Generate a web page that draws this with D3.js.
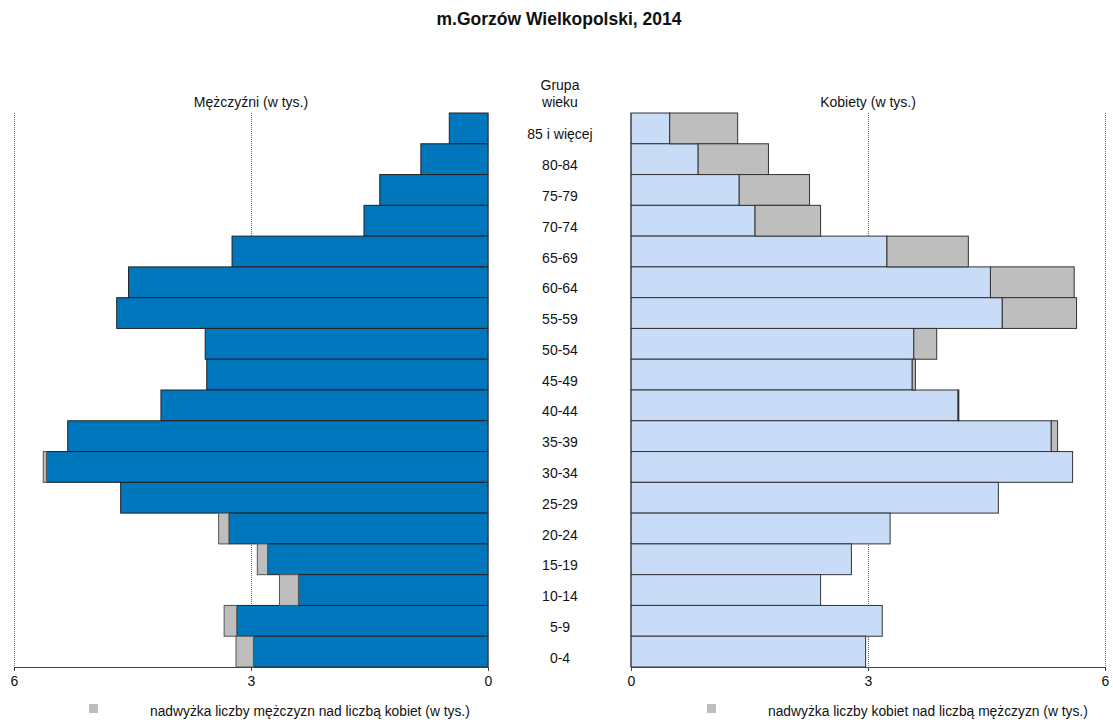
<!DOCTYPE html>
<html>
<head>
<meta charset="utf-8">
<script src="https://cdn.jsdelivr.net/npm/d3@7"></script>
<style>
  body { margin: 0; background: #fff; }
  text { font-family: "Liberation Sans", Arial, sans-serif; fill: #111; }
</style>
</head>
<body>
<div id="chart"></div>
<script>
// age groups, top to bottom
const ageGroups = ["85 i więcej", "80-84", "75-79", "70-74", "65-69", "60-64", "55-59", "50-54",
  "45-49", "40-44", "35-39", "30-34", "25-29", "20-24", "15-19", "10-14", "5-9", "0-4"];
// thousands
const men = [0.49, 0.85, 1.37, 1.57, 3.24, 4.55, 4.70, 3.58, 3.56, 4.14, 5.32, 5.63, 4.65, 3.41, 2.92, 2.64, 3.34, 3.19];
const women = [1.35, 1.74, 2.26, 2.40, 4.27, 5.61, 5.64, 3.87, 3.60, 4.15, 5.40, 5.59, 4.65, 3.28, 2.79, 2.40, 3.18, 2.97];
const tickValues = [0, 3, 6];

const width = 1113, height = 720;
const plotTop = 113, plotBottom = 667;

const svg = d3.select("#chart").append("svg")
  .attr("width", width)
  .attr("height", height);

const data = ageGroups.map((g, i) => ({
  group: g,
  base: Math.min(men[i], women[i]),
  menExtra: Math.max(0, men[i] - women[i]),
  womenExtra: Math.max(0, women[i] - men[i])
}));

const y = d3.scaleBand().domain(ageGroups).range([plotTop, plotBottom]).padding(0);
const xL = d3.scaleLinear().domain([0, 6]).range([488, 14]);
const xR = d3.scaleLinear().domain([0, 6]).range([631, 1105]);

// dotted grid
[xL, xR].forEach(sc => {
  svg.append("g").selectAll("line")
    .data(tickValues.filter(d => d > 0))
    .join("line")
    .attr("x1", d => sc(d) + 0.5).attr("x2", d => sc(d) + 0.5)
    .attr("y1", plotTop).attr("y2", plotBottom)
    .attr("stroke", "#5a5af0")
    .attr("stroke-width", 1)
    .attr("stroke-dasharray", "1,1");
});

// men
svg.append("g").selectAll("rect")
  .data(data)
  .join("rect")
  .attr("x", d => xL(d.base))
  .attr("y", d => y(d.group))
  .attr("width", d => xL(0) - xL(d.base))
  .attr("height", y.bandwidth())
  .attr("fill", "#0077bd")
  .attr("stroke", "#222")
  .attr("stroke-width", 1);

svg.append("g").selectAll("rect")
  .data(data.filter(d => d.menExtra > 0.005))
  .join("rect")
  .attr("x", d => xL(d.base + d.menExtra))
  .attr("y", d => y(d.group))
  .attr("width", d => xL(d.base) - xL(d.base + d.menExtra))
  .attr("height", y.bandwidth())
  .attr("fill", "#bebebe")
  .attr("stroke", "#555")
  .attr("stroke-width", 1);

// women
svg.append("g").selectAll("rect")
  .data(data)
  .join("rect")
  .attr("x", xR(0))
  .attr("y", d => y(d.group))
  .attr("width", d => xR(d.base) - xR(0))
  .attr("height", y.bandwidth())
  .attr("fill", "#c8dcf7")
  .attr("stroke", "#333")
  .attr("stroke-width", 1);

svg.append("g").selectAll("rect")
  .data(data.filter(d => d.womenExtra > 0.005))
  .join("rect")
  .attr("x", d => xR(d.base))
  .attr("y", d => y(d.group))
  .attr("width", d => xR(d.base + d.womenExtra) - xR(d.base))
  .attr("height", y.bandwidth())
  .attr("fill", "#bebebe")
  .attr("stroke", "#333")
  .attr("stroke-width", 1);

// axes
const axL = svg.append("g")
  .attr("transform", `translate(0,${plotBottom})`)
  .call(d3.axisBottom(xL).tickValues(tickValues).tickSize(4).tickFormat(d3.format("d")));
const axR = svg.append("g")
  .attr("transform", `translate(0,${plotBottom})`)
  .call(d3.axisBottom(xR).tickValues(tickValues).tickSize(4).tickFormat(d3.format("d")));
[axL, axR].forEach(ax => {
  ax.select(".domain").attr("stroke", "#444");
  ax.selectAll(".tick line").attr("stroke", "#444");
  ax.selectAll("text").attr("font-size", 14).attr("dy", "0.85em")
    .style("font-family", "Liberation Sans, Arial, sans-serif").attr("fill", "#111");
});

// zero lines
svg.append("line").attr("x1", xL(0)).attr("x2", xL(0)).attr("y1", plotTop).attr("y2", plotBottom)
  .attr("stroke", "#444");
svg.append("line").attr("x1", xR(0)).attr("x2", xR(0)).attr("y1", plotTop).attr("y2", plotBottom)
  .attr("stroke", "#444");

// age labels
svg.append("g").selectAll("text")
  .data(ageGroups)
  .join("text")
  .attr("x", 560)
  .attr("y", d => y(d) + y.bandwidth() / 2 + 11)
  .attr("text-anchor", "middle")
  .attr("font-size", 14)
  .text(d => d);

// headers
svg.append("text").attr("x", 559).attr("y", 25).attr("text-anchor", "middle")
  .attr("font-size", 17.5).attr("font-weight", "bold").text("m.Gorzów Wielkopolski, 2014");
svg.append("text").attr("x", 560).attr("y", 90).attr("text-anchor", "middle")
  .attr("font-size", 14).text("Grupa");
svg.append("text").attr("x", 560).attr("y", 107).attr("text-anchor", "middle")
  .attr("font-size", 14).text("wieku");
svg.append("text").attr("x", 251).attr("y", 107).attr("text-anchor", "middle")
  .attr("font-size", 14).text("Mężczyźni (w tys.)");
svg.append("text").attr("x", 868).attr("y", 107).attr("text-anchor", "middle")
  .attr("font-size", 14).text("Kobiety (w tys.)");

// legend
const legend = [
  { x: 89, label: "nadwyżka liczby mężczyzn nad liczbą kobiet (w tys.)" },
  { x: 707, label: "nadwyżka liczby kobiet nad liczbą mężczyzn (w tys.)" }
];
legend.forEach(l => {
  svg.append("rect").attr("x", l.x).attr("y", 704).attr("width", 9).attr("height", 9)
    .attr("fill", "#bebebe");
  svg.append("text").attr("x", l.x + 61).attr("y", 716).attr("font-size", 13.8).text(l.label);
});
</script>
</body>
</html>
